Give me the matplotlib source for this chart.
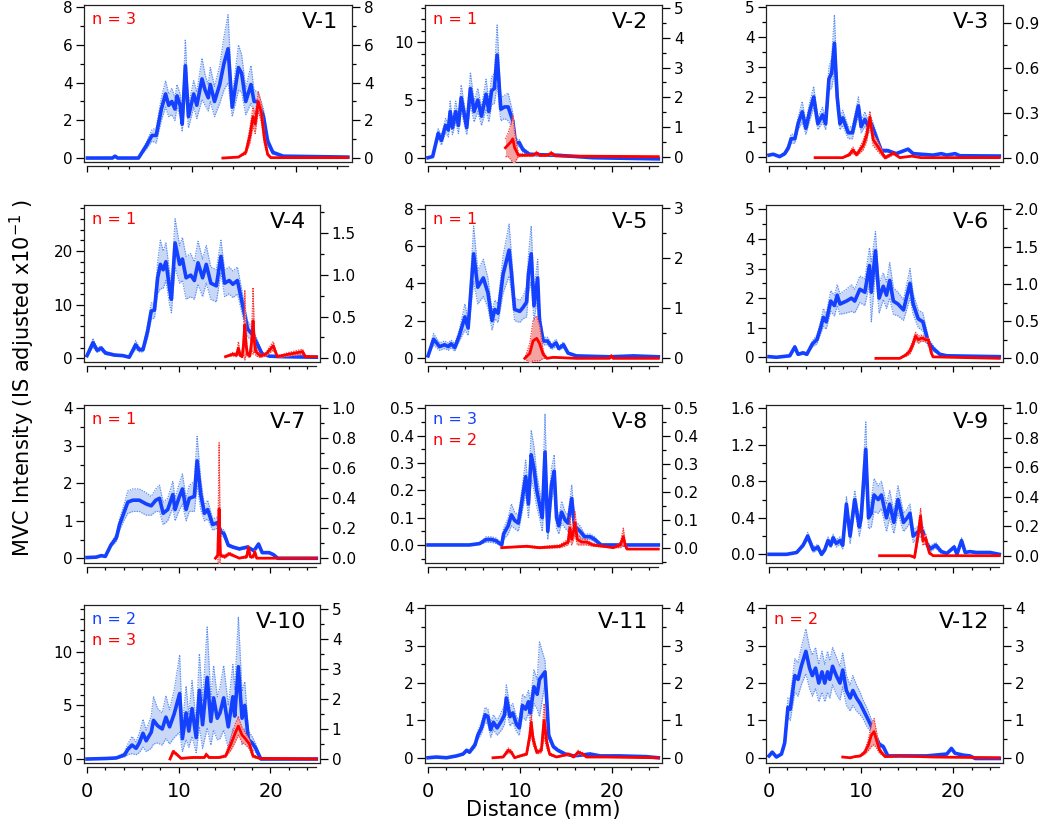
import matplotlib.pyplot as plt
from matplotlib.ticker import MultipleLocator, FormatStrFormatter
import numpy as np

# ---- data: x in mm, mean (y) and half band width (s) ----
# blue = left axis, red = right axis

v1_bx = [0, 2.4, 2.65, 2.9, 4.9, 5.7, 6.2, 6.6, 7.1, 7.5, 7.8, 8.1, 8.4, 8.6, 8.9, 9.1, 9.4, 9.7, 10.2, 10.5,
         11.0, 11.3, 11.6, 11.8, 12.2, 12.7, 13.1, 13.5, 13.9, 14.5, 14.8, 15.2, 15.7, 16.0, 16.4, 16.9, 17.3, 17.8, 18.8, 25]
v1_by = [0, 0, 0.1, 0, 0, 0.7, 1.2, 1.2, 2.6, 3.4, 2.8, 3.0, 2.6, 3.3, 2.8, 1.8, 4.9, 2.2, 3.4, 2.8,
         4.2, 3.6, 3.2, 3.9, 3.0, 3.9, 5.0, 5.8, 2.7, 4.8, 4.5, 3.0, 3.9, 3.0, 3.0, 2.2, 0.9, 0.3, 0.1, 0.05]
v1_bs = [0, 0, 0, 0, 0, 0.2, 0.3, 0.4, 0.6, 0.7, 0.6, 0.7, 0.6, 0.6, 0.6, 0.4, 1.4, 0.6, 0.7, 0.7,
         1.1, 0.8, 0.7, 0.9, 0.8, 1.0, 1.4, 1.8, 0.5, 1.2, 1.0, 0.7, 1.0, 0.6, 0.5, 0.4, 0.2, 0.1, 0, 0]
v1_rx = [13.0, 14.5, 15.2, 15.6, 15.9, 16.1, 16.4, 16.7, 17.0, 17.3, 17.6, 25]
v1_ry = [0, 0.05, 0.3, 1.2, 2.2, 1.8, 3.0, 2.4, 1.0, 0.2, 0.02, 0.02]
v1_rs = [0, 0, 0.1, 0.4, 0.5, 0.5, 0.5, 0.5, 0.3, 0.1, 0, 0]

v2_bx = [0, 0.5, 1.1, 1.45, 1.9, 2.2, 2.4, 2.65, 3.0, 3.3, 3.6, 4.2, 4.6, 5.0, 5.4, 5.8, 6.3, 6.6, 6.9, 7.2,
         7.5, 7.9, 8.3, 8.7, 9.2, 9.5, 9.9, 10.3, 11.0, 12.5, 14.3, 17.9, 25]
v2_by = [0, 0.1, 2.1, 1.5, 2.8, 2.4, 4.0, 2.6, 4.0, 2.8, 5.2, 2.6, 6.0, 4.0, 5.0, 3.6, 5.5, 4.0, 5.8, 6.0,
         8.9, 4.2, 4.4, 4.4, 3.2, 1.3, 1.3, 0.7, 0.3, 0.25, 0.2, 0, -0.1]
v2_bs = [0, 0, 0.4, 0.4, 0.6, 0.6, 0.9, 0.6, 0.9, 0.7, 1.1, 0.6, 1.4, 0.9, 1.0, 0.8, 1.3, 0.9, 1.2, 1.3,
         2.6, 1.0, 1.0, 1.2, 0.7, 0.3, 0.3, 0.2, 0.1, 0.1, 0.1, 0, 0]
v2_rx = [8.4, 8.7, 9.0, 9.2, 9.4, 9.8, 11.4, 11.8, 12.2, 13.0, 13.4, 13.8, 15, 25]
v2_ry = [0.3, 0.4, 0.5, 0.6, 0.3, 0.05, 0.05, 0.12, 0.04, 0.05, 0.12, 0.03, 0.02, 0.0]
v2_rs = [0.3, 0.4, 0.6, 0.8, 0.5, 0.05, 0.02, 0.06, 0.02, 0.02, 0.06, 0.02, 0, 0]

v3_bx = [0, 0.45, 1.15, 1.7, 2.1, 2.4, 2.8, 3.15, 3.6, 4.0, 4.4, 4.85, 5.3, 5.8, 6.15, 6.5, 6.8, 7.1, 7.4, 7.7,
         8.0, 8.6, 9.05, 9.7, 10.0, 10.4, 10.8, 11.1, 11.7, 12.2, 12.9, 13.8, 15.1, 15.65, 17.8, 18.7, 19.3, 20.2, 20.7, 25]
v3_by = [0.05, 0.08, 0.0, 0.1, 0.3, 0.6, 0.6, 1.1, 1.5, 0.95, 1.5, 2.0, 1.1, 1.4, 1.1, 2.6, 2.8, 3.8, 2.0, 1.1,
         1.3, 0.8, 0.8, 1.7, 1.0, 1.25, 1.0, 1.1, 0.6, 0.2, 0.2, 0.1, 0.25, 0.1, 0.05, 0.1, 0.05, 0.1, 0.03, 0.02]
v3_bs = [0, 0, 0, 0.05, 0.1, 0.15, 0.15, 0.2, 0.35, 0.2, 0.3, 0.35, 0.2, 0.25, 0.2, 0.4, 0.5, 0.95, 0.4, 0.2,
         0.25, 0.2, 0.2, 0.3, 0.2, 0.25, 0.2, 0.2, 0.15, 0.05, 0.05, 0.03, 0.03, 0.02, 0.0, 0.02, 0.0, 0.02, 0, 0]
v3_rx = [5.0, 8.0, 8.7, 9.1, 9.5, 10.2, 10.6, 10.95, 11.3, 11.85, 12.6, 13.5, 14.2, 15.5, 16.5, 25]
v3_ry = [0, 0, 0.02, 0.05, 0.02, 0.08, 0.15, 0.27, 0.12, 0.07, 0.0, 0.03, 0.0, 0.01, 0.0, 0.0]
v3_rs = [0, 0, 0.01, 0.02, 0.01, 0.03, 0.04, 0.04, 0.04, 0.03, 0.01, 0.01, 0, 0, 0, 0]

v4_bx = [0, 0.65, 1.1, 1.55, 2.0, 3.0, 3.9, 4.6, 5.3, 5.7, 6.1, 6.6, 7.0, 7.35, 7.7, 8.0, 8.3, 8.6, 9.0, 9.2,
         9.6, 10.1, 10.4, 10.8, 11.3, 11.7, 12.1, 12.6, 13.0, 13.5, 14.1, 14.6, 15.0, 15.5, 15.9, 16.4, 16.95, 17.5,
         18.0, 18.6, 19.1, 19.9, 21.3, 25]
v4_by = [0.5, 2.9, 1.5, 1.9, 1.0, 0.6, 0.5, 0.2, 2.5, 1.6, 1.6, 5.0, 8.8, 9.0, 15.0, 17.5, 16.5, 18.0, 13.0, 11.0,
         21.5, 17.5, 18.5, 15.0, 15.5, 14.5, 17.8, 15.0, 17.5, 14.0, 13.5, 19.0, 14.0, 14.5, 13.8, 14.5, 10.0, 5.5,
         4.5, 2.5, 0.8, 0.4, 0.3, 0.2]
v4_bs = [0.2, 0.8, 0.4, 0.4, 0.3, 0.2, 0.1, 0.1, 0.8, 0.4, 0.4, 1.2, 1.5, 1.5, 3.0, 4.5, 3.5, 3.5, 3.0, 2.5,
         4.5, 3.5, 4.0, 4.0, 4.0, 3.5, 4.0, 3.5, 3.5, 3.0, 3.0, 3.0, 2.5, 2.5, 2.5, 2.5, 2.0, 1.5,
         1.2, 0.8, 0.3, 0.1, 0.1, 0.05]
v4_rx = [15.1, 15.9, 16.3, 16.5, 16.7, 16.9, 17.05, 17.2, 17.35, 17.5, 17.75, 17.95, 18.1, 18.25, 18.4, 18.9,
         19.5, 20.3, 20.75, 22.0, 23.5, 23.8, 25]
v4_ry = [0.02, 0.05, 0.04, 0.12, 0.04, 0.02, 0.15, 0.4, 0.15, 0.05, 0.03, 0.2, 0.45, 0.2, 0.08, 0.03,
         0.05, 0.15, 0.02, 0.05, 0.08, 0.02, 0.02]
v4_rs = [0, 0.02, 0.02, 0.08, 0.02, 0.01, 0.1, 0.42, 0.1, 0.03, 0.02, 0.1, 0.4, 0.1, 0.05, 0.02,
         0.02, 0.05, 0.01, 0.02, 0.03, 0.01, 0]

v5_bx = [0, 0.6, 1.25, 1.8, 2.2, 2.5, 2.9, 3.4, 4.0, 4.35, 4.95, 5.4, 6.0, 6.5, 6.95, 7.25, 7.6, 8.15, 8.8, 9.05,
         9.4, 9.96, 10.3, 10.7, 10.9, 11.2, 11.5, 11.9, 12.1, 12.5, 12.97, 13.4, 13.9, 14.2, 14.7, 15.2, 16.1, 19.7, 22.3, 25]
v5_by = [0.1, 1.0, 0.6, 0.7, 0.6, 0.75, 0.55, 1.2, 2.2, 1.6, 5.6, 3.8, 4.3, 3.5, 2.0, 2.6, 2.4, 4.5, 5.8, 4.6,
         2.6, 2.5, 2.7, 3.0, 4.5, 5.6, 2.8, 4.3, 2.0, 0.9, 0.9, 0.6, 0.8, 0.5, 0.7, 0.25, 0.1, 0.05, 0.1, 0.05]
v5_bs = [0, 0.3, 0.2, 0.2, 0.2, 0.2, 0.2, 0.3, 0.7, 0.4, 1.5, 0.9, 1.0, 0.8, 0.5, 0.5, 0.5, 1.0, 1.4, 1.0,
         0.6, 0.6, 0.6, 0.8, 1.0, 1.5, 0.8, 1.0, 0.6, 0.2, 0.2, 0.15, 0.2, 0.1, 0.15, 0.05, 0, 0, 0, 0]
v5_rx = [10.5, 11.05, 11.4, 11.8, 12.1, 12.5, 12.9, 13.6, 16.1, 19.7, 19.9, 20.1, 25]
v5_ry = [0.0, 0.1, 0.35, 0.4, 0.3, 0.08, 0.0, 0.02, 0.0, 0.0, 0.05, 0.0, 0.0]
v5_rs = [0.0, 0.2, 0.4, 0.45, 0.35, 0.08, 0.0, 0.01, 0, 0, 0.02, 0, 0]

v6_bx = [0, 0.8, 2.25, 2.8, 3.15, 3.7, 4.1, 4.7, 5.2, 5.6, 5.9, 6.2, 6.7, 7.1, 7.4, 7.7, 8.4, 8.95, 9.3, 9.86,
         10.4, 10.9, 11.1, 11.55, 11.95, 12.4, 12.75, 13.1, 13.5, 14.0, 14.6, 15.3, 15.65, 16.2, 16.7, 17.3, 17.8,
         18.55, 19.3, 25]
v6_by = [0.02, 0.0, 0.05, 0.35, 0.1, 0.15, 0.1, 0.45, 0.6, 1.0, 1.35, 1.2, 1.9, 1.75, 2.1, 1.8, 1.9, 2.0, 1.9, 2.3,
         2.2, 3.1, 2.2, 3.6, 2.0, 2.4, 2.1, 2.6, 1.9, 1.8, 1.6, 2.5, 1.8, 1.3, 1.2, 0.5, 0.3,
         0.1, 0.05, 0.02]
v6_bs = [0, 0, 0, 0.05, 0.03, 0.05, 0.03, 0.1, 0.15, 0.2, 0.3, 0.25, 0.35, 0.35, 0.35, 0.35, 0.4, 0.45, 0.4, 0.45,
         0.45, 0.6, 1.0, 0.65, 0.5, 0.45, 0.45, 0.6, 0.45, 0.4, 0.35, 0.5, 0.35, 0.3, 0.3, 0.15, 0.1,
         0.02, 0, 0]
v6_rx = [11.6, 14.2, 14.9, 15.3, 15.65, 15.9, 16.2, 16.5, 16.7, 17.0, 17.3, 17.6, 17.8, 25]
v6_ry = [0, 0, 0.05, 0.1, 0.2, 0.3, 0.25, 0.27, 0.27, 0.25, 0.25, 0.08, 0.02, 0.0]
v6_rs = [0, 0, 0.02, 0.04, 0.05, 0.05, 0.05, 0.04, 0.04, 0.03, 0.03, 0.02, 0, 0]

v7_bx = [0, 1.0, 1.55, 2.0, 2.6, 3.2, 3.55, 4.0, 4.45, 5.0, 5.7, 6.45, 7.0, 7.5, 7.9, 8.3, 8.8, 9.35, 9.6, 10.0,
         10.4, 10.8, 11.15, 11.7, 12.0, 12.4, 12.8, 13.15, 13.7, 14.2, 14.6, 14.95, 15.4, 15.9, 16.6, 17.5, 18.2,
         18.7, 19.1, 19.85, 20.3, 20.8, 25]
v7_by = [0.02, 0.03, 0.07, 0.05, 0.35, 0.55, 0.9, 1.2, 1.5, 1.55, 1.55, 1.45, 1.4, 1.55, 1.6, 1.2, 1.3, 1.7, 1.3, 1.6,
         1.85, 1.3, 1.6, 1.65, 2.6, 1.7, 1.2, 1.3, 0.9, 0.95, 0.7, 0.65, 0.35, 0.3, 0.25, 0.3, 0.2,
         0.38, 0.15, 0.15, 0.1, 0.0, 0.0]
v7_bs = [0, 0, 0.02, 0.02, 0.05, 0.1, 0.15, 0.2, 0.3, 0.3, 0.3, 0.3, 0.25, 0.3, 0.35, 0.3, 0.3, 0.35, 0.3, 0.35,
         0.4, 0.3, 0.35, 0.4, 0.65, 0.4, 0.2, 0.25, 0.15, 0.15, 0.1, 0.1, 0.05, 0.03, 0.03, 0.03, 0.02,
         0.04, 0.02, 0.02, 0.01, 0, 0]
v7_rx = [14.0, 14.25, 14.4, 14.55, 15.0, 15.5, 16.6, 17.4, 17.6, 17.8, 18.1, 18.3, 18.5, 18.8, 25]
v7_ry = [0.0, 0.02, 0.33, 0.02, 0.01, 0.03, 0.0, 0.01, 0.07, 0.01, 0.01, 0.04, 0.0, 0.0, 0.0]
v7_rs = [0, 0.01, 0.44, 0.01, 0.01, 0.01, 0, 0.01, 0.02, 0.01, 0.01, 0.02, 0, 0, 0]

v8_bx = [0, 4.5, 5.6, 6.3, 6.9, 7.4, 8.0, 8.2, 8.7, 9.05, 9.4, 9.8, 10.1, 10.6, 10.9, 11.2, 11.5, 11.8, 12.1, 12.4,
         12.7, 13.0, 13.4, 13.7, 13.95, 14.2, 14.5, 14.9, 15.2, 15.6, 15.9, 16.5, 17.0, 17.6, 18.1, 18.8, 25]
v8_by = [0, 0, 0.005, 0.02, 0.02, 0.015, 0.0, 0.04, 0.07, 0.11, 0.09, 0.08, 0.14, 0.25, 0.15, 0.33, 0.28, 0.20, 0.15, 0.10,
         0.34, 0.05, 0.22, 0.27, 0.10, 0.07, 0.12, 0.09, 0.08, 0.17, 0.07, 0.05, 0.03, 0.03, 0.02, 0.0, 0.0]
v8_bs = [0, 0, 0.002, 0.01, 0.01, 0.01, 0.005, 0.02, 0.03, 0.04, 0.03, 0.03, 0.04, 0.06, 0.05, 0.09, 0.08, 0.06, 0.05, 0.05,
         0.14, 0.03, 0.06, 0.06, 0.04, 0.03, 0.04, 0.03, 0.03, 0.05, 0.02, 0.02, 0.01, 0.01, 0.01, 0, 0]
v8_rx = [8.0, 10.7, 12.1, 14.3, 15.2, 15.4, 15.6, 15.8, 15.95, 16.2, 16.7, 17.2, 17.9, 20.1, 20.9, 21.2, 21.4, 21.6, 25]
v8_ry = [0.0, 0.005, 0.0, 0.005, 0.02, 0.07, 0.03, 0.06, 0.09, 0.03, 0.02, 0.02, 0.01, 0.0, 0.01, 0.04, 0.01, -0.005, -0.005]
v8_rs = [0, 0.003, 0.003, 0.005, 0.01, 0.04, 0.02, 0.03, 0.04, 0.02, 0.01, 0.01, 0.005, 0, 0.01, 0.03, 0.01, 0, 0]

v9_bx = [0, 1.9, 3.0, 3.7, 4.2, 4.8, 5.3, 5.7, 6.05, 6.4, 6.7, 6.95, 7.3, 7.7, 8.0, 8.4, 8.8, 9.3, 9.8, 10.0,
         10.5, 10.8, 11.1, 11.4, 11.85, 12.2, 12.75, 13.1, 13.55, 14.0, 14.6, 15.0, 15.3, 15.65, 16.2, 16.7, 17.1,
         17.5, 18.1, 18.7, 19.3, 20.1, 20.4, 20.9, 21.3, 21.8, 22.5, 24.0, 25]
v9_by = [0, 0, 0.02, 0.1, 0.2, 0.05, 0.08, 0.0, 0.05, 0.15, 0.1, 0.18, 0.12, 0.15, 0.1, 0.55, 0.2, 0.6, 0.3, 0.4,
         1.15, 0.4, 0.45, 0.65, 0.6, 0.65, 0.4, 0.55, 0.35, 0.6, 0.35, 0.4, 0.45, 0.2, 0.25, 0.25, 0.12,
         0.06, 0.1, 0.03, 0.01, 0.08, 0.0, 0.15, 0.02, 0.03, 0.02, 0.02, 0.0]
v9_bs = [0, 0, 0, 0.02, 0.04, 0.03, 0.03, 0.02, 0.02, 0.04, 0.03, 0.04, 0.04, 0.04, 0.04, 0.08, 0.08, 0.1, 0.1, 0.1,
         0.3, 0.12, 0.15, 0.18, 0.15, 0.15, 0.15, 0.15, 0.12, 0.15, 0.1, 0.1, 0.1, 0.07, 0.06, 0.06, 0.04,
         0.03, 0.03, 0.02, 0.01, 0.02, 0.01, 0.03, 0.01, 0.01, 0.01, 0.01, 0]
v9_rx = [12.0, 15.3, 15.8, 16.2, 16.45, 16.7, 17.0, 17.4, 17.8, 25]
v9_ry = [0, 0, -0.01, 0.15, 0.27, 0.1, 0.12, 0.02, 0.0, 0.0]
v9_rs = [0, 0, 0.01, 0.04, 0.05, 0.03, 0.03, 0.01, 0, 0]

v10_bx = [0, 2.1, 3.2, 4.1, 4.45, 4.9, 5.35, 5.7, 6.1, 6.45, 7.0, 7.25, 7.7, 8.2, 8.6, 9.0, 9.5, 10.1, 10.4, 10.8,
          11.1, 11.45, 11.9, 12.25, 12.6, 13.1, 13.5, 13.8, 14.2, 14.5, 14.9, 15.4, 15.9, 16.1, 16.5, 16.9, 17.2,
          17.6, 18.0, 18.4, 18.95, 25]
v10_by = [0, 0.05, 0.1, 0.4, 0.9, 1.3, 1.0, 1.5, 2.4, 1.7, 2.5, 3.6, 3.1, 2.8, 3.9, 3.0, 4.2, 6.1, 1.9, 4.3,
          2.6, 4.7, 2.0, 6.4, 3.2, 7.6, 3.5, 5.7, 3.8, 4.3, 5.7, 3.0, 5.8, 4.0, 8.6, 3.8, 5.0,
          1.8, 1.5, 1.0, 0.0, 0.0]
v10_bs = [0, 0, 0.05, 0.2, 0.5, 0.8, 0.6, 0.9, 1.3, 1.0, 1.5, 2.2, 1.6, 1.5, 2.0, 1.6, 2.2, 3.6, 1.2, 2.5,
          1.5, 2.6, 1.4, 3.4, 2.2, 4.7, 2.2, 3.0, 2.0, 2.4, 3.0, 2.0, 3.0, 2.5, 4.6, 2.5, 2.2,
          0.8, 0.6, 0.4, 0, 0]
v10_rx = [9.05, 9.4, 9.8, 10.25, 11.5, 12.8, 13.0, 13.3, 14.4, 15.1, 15.7, 16.2, 16.5, 16.9, 17.2, 17.7, 18.1, 18.8, 25]
v10_ry = [0.0, 0.25, 0.15, 0.02, 0.05, 0.05, 0.15, 0.05, 0.05, 0.1, 0.5, 0.9, 1.1, 0.8, 0.7, 0.5, 0.1, 0.02, 0.0]
v10_rs = [0, 0.05, 0.04, 0.01, 0.02, 0.02, 0.05, 0.02, 0.02, 0.04, 0.2, 0.3, 0.3, 0.25, 0.2, 0.15, 0.05, 0.01, 0]

v11_bx = [0, 0.9, 2.0, 3.1, 3.8, 4.2, 4.5, 5.1, 5.4, 5.8, 6.2, 6.5, 6.8, 7.1, 7.5, 8.0, 8.3, 8.5, 8.9, 9.2,
          9.6, 9.9, 10.25, 10.6, 10.9, 11.1, 11.5, 11.85, 12.1, 12.7, 12.9, 13.1, 13.6, 14.1, 14.9, 15.8, 17.6,
          18.7, 20.8, 23.7, 25]
v11_by = [0, 0.02, 0.0, 0.05, 0.1, 0.2, 0.15, 0.35, 0.6, 0.8, 1.15, 1.1, 0.75, 0.95, 0.8, 1.0, 1.15, 1.6, 1.1, 1.2,
          0.9, 0.8, 1.4, 1.3, 1.5, 1.2, 1.9, 1.7, 2.1, 2.3, 1.5, 0.6, 0.3, 0.2, 0.1, 0.05, 0.1,
          0.05, 0.05, 0.03, 0.0]
v11_bs = [0, 0, 0, 0.01, 0.02, 0.04, 0.03, 0.08, 0.12, 0.15, 0.2, 0.2, 0.2, 0.2, 0.2, 0.25, 0.25, 0.35, 0.25, 0.25,
          0.2, 0.2, 0.3, 0.3, 0.3, 0.3, 0.45, 0.4, 1.0, 0.3, 0.2, 0.1, 0.05, 0.04, 0.02, 0.01, 0.03,
          0.01, 0.01, 0.01, 0]
v11_rx = [7.05, 8.15, 8.7, 9.05, 9.4, 10.0, 10.7, 11.05, 11.2, 11.4, 11.8, 12.3, 12.6, 12.9, 13.2, 13.95,
          15.3, 15.8, 16.3, 16.8, 17.2, 19.4, 25]
v11_ry = [0.0, 0.02, 0.2, 0.15, 0.0, 0.05, 0.1, 0.6, 0.95, 0.5, 0.15, 0.2, 1.0, 0.4, 0.1, 0.02,
          0.1, 0.02, 0.15, 0.1, 0.02, 0.02, 0.0]
v11_rs = [0, 0.01, 0.06, 0.05, 0, 0.02, 0.03, 0.15, 0.2, 0.15, 0.05, 0.06, 0.45, 0.15, 0.04, 0.01,
          0.03, 0.01, 0.05, 0.03, 0.01, 0.01, 0]

v12_bx = [0, 0.35, 0.8, 1.35, 1.7, 2.05, 2.3, 2.8, 3.15, 3.5, 4.0, 4.4, 4.7, 5.05, 5.4, 5.75, 6.05, 6.35, 6.6, 6.9,
          7.3, 7.7, 8.0, 8.4, 8.8, 9.1, 9.5, 9.9, 10.2, 10.6, 11.0, 11.5, 12.0, 12.4, 12.9, 14.2, 17.1, 19.3,
          19.8, 20.2, 21.1, 21.8, 22.4, 25]
v12_by = [0.05, 0.15, 0.02, 0.1, 0.4, 1.35, 1.3, 2.2, 2.1, 2.45, 2.85, 2.4, 2.2, 2.4, 2.0, 2.3, 2.0, 2.3, 2.1, 2.45,
          2.2, 2.0, 2.35, 1.8, 1.6, 1.8, 1.6, 1.45, 1.3, 1.1, 0.9, 0.6, 0.35, 0.3, 0.05, 0.05, 0.05, 0.1,
          0.25, 0.12, 0.07, 0.05, -0.02, -0.02]
v12_bs = [0, 0, 0, 0.02, 0.1, 0.25, 0.3, 0.45, 0.45, 0.5, 0.6, 0.55, 0.55, 0.55, 0.5, 0.55, 0.5, 0.55, 0.5, 0.5,
          0.5, 0.45, 0.45, 0.4, 0.35, 0.4, 0.35, 0.3, 0.25, 0.25, 0.2, 0.15, 0.05, 0.05, 0.02, 0.01, 0.01, 0.01,
          0.03, 0.01, 0.01, 0.01, 0, 0]
v12_rx = [8.0, 8.8, 9.3, 9.9, 10.4, 10.8, 11.1, 11.4, 11.7, 12.0, 12.6, 14.2, 17.8, 25]
v12_ry = [0.02, 0.0, 0.03, 0.05, 0.15, 0.35, 0.6, 0.7, 0.45, 0.2, 0.03, 0.05, 0.02, 0.0]
v12_rs = [0, 0, 0.01, 0.02, 0.05, 0.15, 0.3, 0.35, 0.2, 0.08, 0.01, 0.01, 0, 0]

names = ["V-1", "V-2", "V-3", "V-4", "V-5", "V-6", "V-7", "V-8", "V-9", "V-10", "V-11", "V-12"]
blue_n = [None, None, None, None, None, None, None, "n = 3", None, "n = 2", None, None]
red_n = ["n = 3", "n = 1", None, "n = 1", "n = 1", None, "n = 1", "n = 2", None, "n = 3", None, "n = 2"]

blue_data = [(v1_bx, v1_by, v1_bs), (v2_bx, v2_by, v2_bs), (v3_bx, v3_by, v3_bs), (v4_bx, v4_by, v4_bs),
             (v5_bx, v5_by, v5_bs), (v6_bx, v6_by, v6_bs), (v7_bx, v7_by, v7_bs), (v8_bx, v8_by, v8_bs),
             (v9_bx, v9_by, v9_bs), (v10_bx, v10_by, v10_bs), (v11_bx, v11_by, v11_bs), (v12_bx, v12_by, v12_bs)]
red_data = [(v1_rx, v1_ry, v1_rs), (v2_rx, v2_ry, v2_rs), (v3_rx, v3_ry, v3_rs), (v4_rx, v4_ry, v4_rs),
            (v5_rx, v5_ry, v5_rs), (v6_rx, v6_ry, v6_rs), (v7_rx, v7_ry, v7_rs), (v8_rx, v8_ry, v8_rs),
            (v9_rx, v9_ry, v9_rs), (v10_rx, v10_ry, v10_rs), (v11_rx, v11_ry, v11_rs), (v12_rx, v12_ry, v12_rs)]

# axis settings: (ymin, ymax, major, minor) for left and right axes
left_axes = [(-0.21, 8.12, 2, 1), (-0.37, 13.23, 5, 1), (-0.18, 5.08, 1, 0.5),
             (-0.69, 28.57, 10, 2), (-0.23, 8.23, 2, 1), (-0.16, 5.15, 1, 0.5),
             (-0.126, 4.09, 1, 0.5), (-0.066, 0.512, 0.1, 0.05), (-0.095, 1.636, 0.4, 0.2),
             (-0.37, 14.35, 5, 1), (-0.14, 4.09, 1, 0.5), (-0.14, 4.09, 1, 0.5)]
right_axes = [(-0.21, 8.12, 2, 1), (-0.18, 5.11, 1, 0.5), (-0.029, 1.018, 0.3, 0.15),
              (-0.044, 1.84, 0.5, 0.25), (-0.073, 3.07, 1, 0.5), (-0.049, 2.06, 0.5, 0.25),
              (-0.032, 1.022, 0.2, 0.1), (-0.055, 0.512, 0.1, 0.05), (-0.0495, 1.022, 0.2, 0.1),
              (-0.134, 5.14, 1, 0.5), (-0.14, 4.09, 1, 0.5), (-0.14, 4.09, 1, 0.5)]

# frame boxes in pixels (left, top, right, bottom)
W, H = 1050, 821
col_lr = [(84, 320), (425, 662), (766, 1003)]
row_tb = [(5, 162), (205, 362), (405, 563), (605, 763)]

BLUE = "#1440ff"
BLUE_EDGE = "#5d8ff2"
BLUE_FILL = "#c9d8f6"
RED = "#ff0000"
RED_EDGE = "#ff3030"
RED_FILL = "#f4a3a3"

fig = plt.figure(figsize=(10.5, 8.21), dpi=100)

for i, name in enumerate(names):
    r, c = divmod(i, 3)
    left, right = col_lr[c]
    if i == 0:
        right = 352
    top, bottom = row_tb[r]
    ax = fig.add_axes([left / W, 1 - bottom / H, (right - left) / W, (bottom - top) / H])
    ax2 = ax.twinx()

    bx, by, bs = [np.array(v, dtype=float) for v in blue_data[i]]
    ax.fill_between(bx, by - bs, by + bs, color=BLUE_FILL, lw=0)
    ax.plot(bx, by + bs, ls=(0, (1, 1)), color=BLUE_EDGE, lw=0.9)
    ax.plot(bx, by - bs, ls=(0, (1, 1)), color=BLUE_EDGE, lw=0.9)
    ax.plot(bx, by, color=BLUE, lw=2.6, solid_joinstyle="round")

    rx, ry, rs = [np.array(v, dtype=float) for v in red_data[i]]
    ax2.fill_between(rx, ry - rs, ry + rs, color=RED_FILL, lw=0)
    ax2.plot(rx, ry + rs, ls=(0, (1, 1)), color=RED_EDGE, lw=0.9)
    ax2.plot(rx, ry - rs, ls=(0, (1, 1)), color=RED_EDGE, lw=0.9)
    ax2.plot(rx, ry, color=RED, lw=2.0, solid_joinstyle="round")

    ax.set_xlim(-0.33, 25.4)
    lo, hi, maj, mnr = left_axes[i]
    ax.set_ylim(lo, hi)
    ax.yaxis.set_major_locator(MultipleLocator(maj))
    ax.yaxis.set_minor_locator(MultipleLocator(mnr))
    ax.yaxis.set_major_formatter(FormatStrFormatter("%.1f" if maj < 1 else "%d"))
    lo, hi, maj, mnr = right_axes[i]
    ax2.set_ylim(lo, hi)
    ax2.yaxis.set_major_locator(MultipleLocator(maj))
    ax2.yaxis.set_minor_locator(MultipleLocator(mnr))
    ax2.yaxis.set_major_formatter(FormatStrFormatter("%.1f" if maj < 1 else "%d"))

    # frame: left/top/right spines, bottom frame line, detached x axis
    for sp in ["top", "bottom", "left"]:
        ax2.spines[sp].set_visible(False)
    ax.spines["right"].set_visible(False)
    for a in (ax, ax2):
        for sp in a.spines.values():
            sp.set_linewidth(0.9)
            sp.set_color("#222222")
    ax.plot([0, 1], [0, 0], transform=ax.transAxes, color="#222222", lw=0.9, clip_on=False)
    ax.spines["bottom"].set_position(("outward", 3))
    ax.spines["bottom"].set_bounds(0, 25)

    ax.xaxis.set_major_locator(MultipleLocator(10))
    ax.xaxis.set_minor_locator(MultipleLocator(2))
    ax.tick_params(axis="x", which="major", direction="out", length=4.5, width=0.9, pad=6,
                   labelsize=14, labelbottom=(r == 3))
    ax.tick_params(axis="x", which="minor", direction="out", length=2.5, width=0.9)
    ax.tick_params(axis="y", which="major", direction="out", length=5.5, width=0.9, pad=2.5, labelsize=11)
    ax.tick_params(axis="y", which="minor", direction="out", length=3, width=0.9)
    ax2.tick_params(axis="y", which="major", direction="out", length=5.5, width=0.9, pad=3, labelsize=11)
    ax2.tick_params(axis="y", which="minor", direction="out", length=3, width=0.9)

    ax2.annotate(name, xy=(1, 1), xycoords="axes fraction", xytext=(-10, -5),
                 textcoords="offset points", ha="right", va="top", fontsize=16)
    labels = [(t, col) for t, col in ((blue_n[i], BLUE), (red_n[i], RED)) if t]
    for k, (t, col) in enumerate(labels):
        ax2.annotate(t, xy=(0, 1), xycoords="axes fraction", xytext=(6, -5 - 15.5 * k),
                     textcoords="offset points", ha="left", va="top", fontsize=11.5, color=col)

fig.text(0.021, 0.54, r"MVC Intensity (IS adjusted x10$^{-1}$ )", rotation=90,
         ha="center", va="center", fontsize=15)
fig.text(543 / W, 1 - 810 / H, "Distance (mm)", ha="center", va="center", fontsize=15)

fig.savefig("out.png", dpi=100)
